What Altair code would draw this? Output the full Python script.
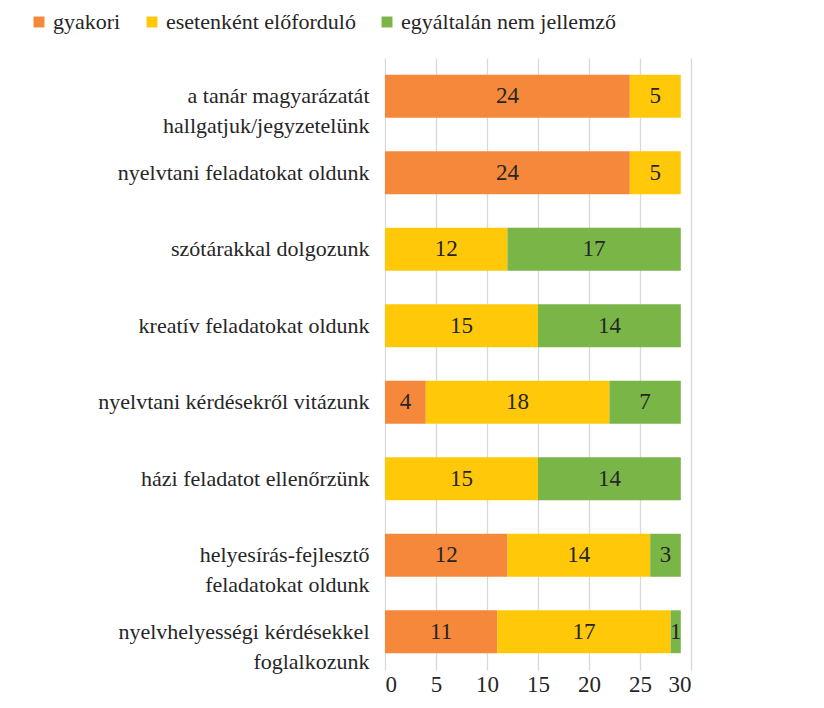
import altair as alt
import pandas as pd

tasks = [
    "a tanár magyarázatát\nhallgatjuk/jegyzetelünk",
    "nyelvtani feladatokat oldunk",
    "szótárakkal dolgozunk",
    "kreatív feladatokat oldunk",
    "nyelvtani kérdésekről vitázunk",
    "házi feladatot ellenőrzünk",
    "helyesírás-fejlesztő\nfeladatokat oldunk",
    "nyelvhelyességi kérdésekkel\nfoglalkozunk",
]
series = ["gyakori", "esetenként előforduló", "egyáltalán nem jellemző"]
gyakori = [24, 24, 0, 0, 4, 0, 12, 11]
esetenkent = [5, 5, 12, 15, 18, 15, 14, 17]
egyaltalan = [0, 0, 17, 14, 7, 14, 3, 1]
colors = ["#F5883B", "#FFC90A", "#7AB548"]
x_ticks = [0, 5, 10, 15, 20, 25, 30]

rows = []
for i, t in enumerate(tasks):
    for j, vals in enumerate([gyakori, esetenkent, egyaltalan]):
        if vals[i] > 0:
            rows.append({"task": t, "series": series[j], "order": j, "value": vals[i]})
df = pd.DataFrame(rows)

FONT = "Liberation Serif"

base = alt.Chart(df).transform_stack(
    stack="value", groupby=["task"], sort=[alt.SortField("order")], as_=["x0", "x1"]
).transform_calculate(mid="(datum.x0 + datum.x1) / 2")

y_enc = alt.Y(
    "task:N",
    sort=tasks,
    title=None,
    scale=alt.Scale(paddingInner=0.44, paddingOuter=0.22),
    axis=alt.Axis(
        labelExpr="split(datum.label, '\\n')",
        labelFont=FONT,
        labelFontSize=22,
        labelColor="#262626",
        labelPadding=16,
        labelLimit=500,
        labelLineHeight=30,
        ticks=False,
        domain=False,
        grid=False,
    ),
)

bars = base.mark_bar().encode(
    y=y_enc,
    x=alt.X(
        "x0:Q",
        scale=alt.Scale(domain=[0, 30], nice=False),
        title=None,
        axis=alt.Axis(
            values=x_ticks,
            labelFont=FONT,
            labelFontSize=23,
            labelColor="#262626",
            labelPadding=3,
            ticks=False,
            domain=False,
            grid=True,
            gridColor="#d9d9d9",
            gridWidth=1.3,
        ),
    ),
    x2="x1:Q",
    color=alt.Color(
        "series:N",
        scale=alt.Scale(domain=series, range=colors),
        legend=alt.Legend(
            title=None,
            orient="none",
            legendX=-357,
            legendY=-47,
            direction="horizontal",
            symbolType="square",
            symbolSize=120,
            symbolStrokeWidth=0,
            labelFont=FONT,
            labelFontSize=22,
            labelColor="#262626",
            labelLimit=500,
            labelOffset=3,
            columnPadding=20,
            padding=0,
        ),
    ),
)

labels = base.mark_text(font=FONT, fontSize=23, color="#262626").encode(
    y=alt.Y("task:N", sort=tasks),
    x=alt.X("mid:Q"),
    text=alt.Text("value:Q"),
)

chart = (
    alt.layer(bars, labels)
    .properties(
        width=306,
        height=612,
        padding={"left": 20, "top": 3, "right": 20, "bottom": 0},
    )
    .configure_view(stroke=None)
)

chart.save("out.html", embed_options={"renderer": "svg", "actions": False})
